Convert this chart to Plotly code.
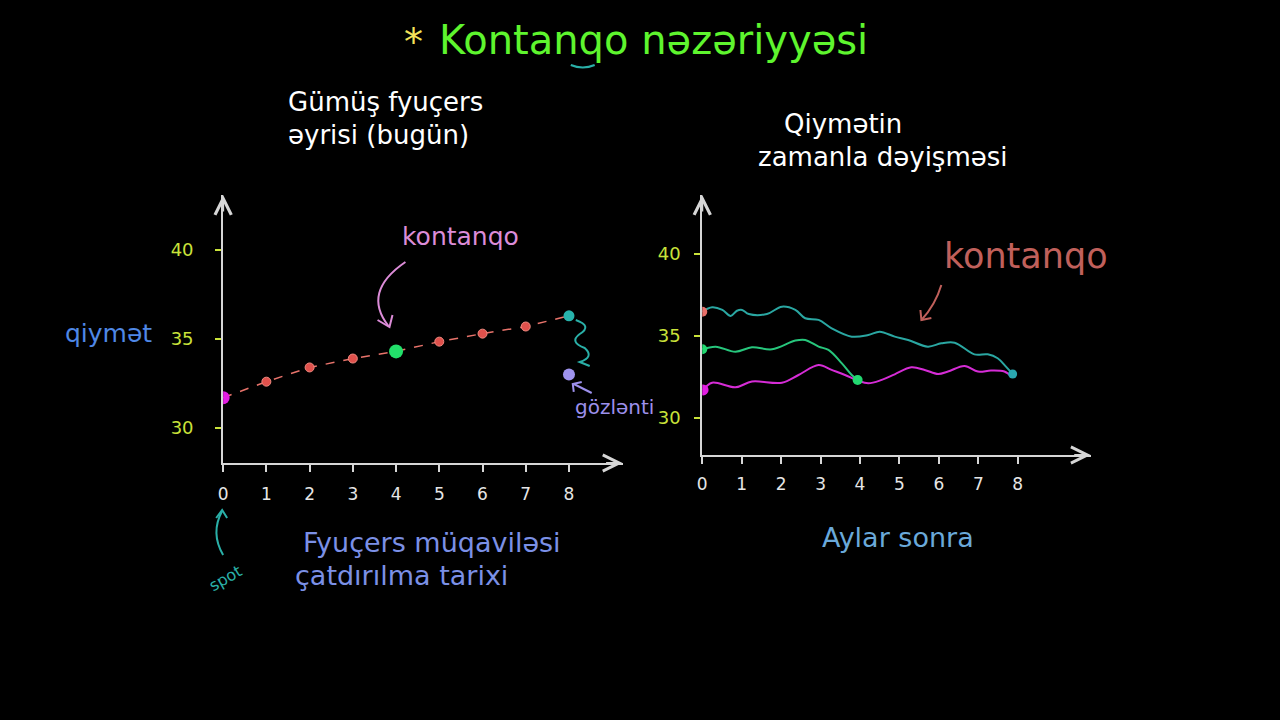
import plotly.graph_objects as go

W, H = 1280, 720

# left panel: silver futures curve (today)
months = [0, 1, 2, 3, 4, 5, 6, 7, 8]
futures_price = [31.7, 32.6, 33.4, 33.9, 34.3, 34.85, 35.3, 35.7, 36.3]
expected_month = [8]
expected_price = [33.0]

# right panel: how the prices move over time
cyan_x = [0, 0.25, 0.51, 0.72, 0.88, 1.01, 1.18, 1.64, 2.02, 2.36, 2.61, 2.95, 3.28, 3.79,
          4.21, 4.5, 4.88, 5.22, 5.72, 6.06, 6.4, 6.9, 7.24, 7.49, 7.7, 7.87]
cyan_y = [36.48, 36.75, 36.59, 36.22, 36.54, 36.59, 36.34, 36.34, 36.79, 36.59, 36.08, 35.98,
          35.47, 34.96, 35.06, 35.26, 34.96, 34.76, 34.35, 34.55, 34.59, 33.88, 33.88, 33.64,
          33.13, 32.68]
green_x = [0, 0.34, 0.84, 1.26, 1.77, 2.36, 2.61, 2.95, 3.2, 3.54, 3.79, 3.94]
green_y = [34.19, 34.35, 34.04, 34.31, 34.19, 34.72, 34.76, 34.35, 34.15, 33.33, 32.62, 32.32]
magenta_x = [0.02, 0.25, 0.84, 1.26, 2.02, 2.44, 2.95, 3.28, 3.62, 3.94, 4.21, 4.55, 4.88,
             5.3, 5.64, 5.98, 6.23, 6.65, 6.99, 7.32, 7.66, 7.85]
magenta_y = [31.71, 32.15, 31.87, 32.22, 32.15, 32.62, 33.23, 32.93, 32.62, 32.28, 32.11,
             32.32, 32.66, 33.09, 32.93, 32.68, 32.83, 33.17, 32.83, 32.89, 32.83, 32.52]

x_ticks = [0, 1, 2, 3, 4, 5, 6, 7, 8]
y_ticks = [30, 35, 40]

FONT = "DejaVu Sans"
AXIS = "#d6d6d6"
YELLOW = "#c9e23a"


def px(x):
    return x / W


def py(y):
    return 1 - y / H


def path(points):
    # points in screen pixels -> svg path in paper units
    cmd = []
    for p in points:
        if isinstance(p, str):
            cmd.append(p)
        else:
            cmd.append(f"{px(p[0]):.5f},{py(p[1]):.5f}")
    return " ".join(cmd)


fig = go.Figure()

# ---- left panel ----
fig.add_trace(go.Scatter(x=months, y=futures_price, mode="lines",
                         line=dict(color="#e8736b", width=1.5, dash="dash"),
                         xaxis="x", yaxis="y", hoverinfo="skip"))
mid = [1, 2, 3, 5, 6, 7]
fig.add_trace(go.Scatter(x=[months[i] for i in mid], y=[futures_price[i] for i in mid],
                         mode="markers",
                         marker=dict(color="#e0514c", size=9, line=dict(color="#f08a80", width=1)),
                         xaxis="x", yaxis="y"))
fig.add_trace(go.Scatter(x=[months[0]], y=[futures_price[0]], mode="markers",
                         marker=dict(color="#e21ee2", size=13), xaxis="x", yaxis="y"))
fig.add_trace(go.Scatter(x=[months[4]], y=[futures_price[4]], mode="markers",
                         marker=dict(color="#22e06a", size=14), xaxis="x", yaxis="y"))
fig.add_trace(go.Scatter(x=[months[8]], y=[futures_price[8]], mode="markers",
                         marker=dict(color="#27b3ac", size=11), xaxis="x", yaxis="y"))
fig.add_trace(go.Scatter(x=expected_month, y=expected_price, mode="markers",
                         marker=dict(color="#9f93ee", size=12), xaxis="x", yaxis="y"))

# ---- right panel ----
fig.add_trace(go.Scatter(x=cyan_x, y=cyan_y, mode="lines", line_shape="spline",
                         line=dict(color="#2aa7a2", width=2), xaxis="x2", yaxis="y2"))
fig.add_trace(go.Scatter(x=green_x, y=green_y, mode="lines", line_shape="spline",
                         line=dict(color="#27c67c", width=2), xaxis="x2", yaxis="y2"))
fig.add_trace(go.Scatter(x=magenta_x, y=magenta_y, mode="lines", line_shape="spline",
                         line=dict(color="#d62cd6", width=2), xaxis="x2", yaxis="y2"))
fig.add_trace(go.Scatter(x=[cyan_x[0]], y=[cyan_y[0]], mode="markers",
                         marker=dict(color="#e8706a", size=10), xaxis="x2", yaxis="y2"))
fig.add_trace(go.Scatter(x=[green_x[0], green_x[-1]], y=[green_y[0], green_y[-1]], mode="markers",
                         marker=dict(color="#22d870", size=10), xaxis="x2", yaxis="y2"))
fig.add_trace(go.Scatter(x=[magenta_x[0]], y=[magenta_y[0]], mode="markers",
                         marker=dict(color="#e21ee2", size=11), xaxis="x2", yaxis="y2"))
fig.add_trace(go.Scatter(x=[cyan_x[-1]], y=[cyan_y[-1]], mode="markers",
                         marker=dict(color="#2aa8b0", size=9), xaxis="x2", yaxis="y2"))

common_x = dict(showgrid=False, zeroline=False, showline=True, linecolor=AXIS, linewidth=2,
                tickmode="array", tickvals=x_ticks, ticks="outside", ticklen=7,
                tickcolor=AXIS, tickwidth=2, tickfont=dict(family=FONT, size=17, color="#e6e6e6"),
                fixedrange=True)
common_y = dict(showgrid=False, zeroline=False, showline=True, linecolor=AXIS, linewidth=2,
                tickmode="array", tickvals=y_ticks, ticks="outside", ticklen=6,
                tickcolor=YELLOW, tickwidth=2, tickfont=dict(family=FONT, size=18, color=YELLOW),
                fixedrange=True)

fig.update_layout(
    width=W, height=H,
    margin=dict(l=0, r=0, t=0, b=0),
    paper_bgcolor="black", plot_bgcolor="black",
    showlegend=False,
    font=dict(family=FONT, color="white"),
    xaxis=dict(common_x, domain=[px(219), px(620)], range=[0, 9.24], anchor="y",
               ticklabelstandoff=8),
    yaxis=dict(common_y, domain=[py(463), py(195)], range=[28.03, 43.09], anchor="x",
               ticklabelstandoff=18),
    xaxis2=dict(common_x, domain=[px(700), px(1090)], range=[0, 9.85], anchor="y2",
                ticklabelstandoff=6),
    yaxis2=dict(common_y, domain=[py(455), py(195)], range=[27.74, 43.6], anchor="x2",
                ticklabelstandoff=10),
)

ann = []


def text(t, x, y, color, size, xanchor="left", angle=0):
    ann.append(dict(text=t, x=px(x), y=py(y), xref="paper", yref="paper", showarrow=False,
                    xanchor=xanchor, yanchor="middle", textangle=angle,
                    font=dict(family=FONT, size=size, color=color)))


text("*", 410, 42, "#f2e35a", 38, "center")
text("Kontanqo nəzəriyyəsi", 434, 40, "#5ef52e", 40)
text("Gümüş fyuçers", 282, 102, "white", 26)
text("əyrisi (bugün)", 282, 135, "white", 26)
text("Qiymətin", 780, 124, "white", 26)
text("zamanla dəyişməsi", 754, 157, "white", 26)
text("qiymət", 58, 333, "#4f88e6", 25)
text("kontanqo", 397, 237, "#dc8cd8", 25)
text("gözlənti", 570, 407, "#9d90ec", 20)
text("Fyuçers müqaviləsi", 297, 542, "#7b90e6", 27)
text("çatdırılma tarixi", 289, 575, "#7b90e6", 27)
text("Aylar sonra", 818, 537, "#6aa9da", 27)
text("spot", 221, 578, "#2ab0a8", 16, "center", -30)
text("kontanqo", 941, 256, "#c0605b", 35)

# axis arrow heads
for xr, yr, xv, yv, axo, ayo in [("x", "y", 0, 43.09, 0, 18), ("x", "y", 9.24, 28.03, -18, 0),
                                 ("x2", "y2", 0, 43.6, 0, 18), ("x2", "y2", 9.85, 27.74, -18, 0)]:
    ann.append(dict(x=xv, y=yv, xref=xr, yref=yr, ax=axo, ay=ayo, text="", showarrow=True,
                    arrowhead=5, arrowsize=1.6, arrowwidth=2, arrowcolor=AXIS))

fig.update_layout(annotations=ann)

shapes = []


def draw(points, color, width=2):
    shapes.append(dict(type="path", path=path(points), xref="paper", yref="paper",
                       line=dict(color=color, width=width)))


# hand-drawn arrows and squiggles
draw(["M", (402, 262), "Q", (358, 292), (385, 326)], "#dc8cd8")
draw(["M", (374, 320), "L", (386, 327), "L", (389, 315)], "#dc8cd8")
draw(["M", (219, 555), "Q", (206, 533), (218, 511)], "#2ab0a8")
draw(["M", (212, 518), "L", (218, 510), "L", (223, 518)], "#2ab0a8")
draw(["M", (589, 393), "L", (571, 384)], "#9d90ec")
draw(["M", (571, 392), "L", (570, 384), "L", (579, 382)], "#9d90ec")
draw(["M", (940, 285), "Q", (934, 305), (920, 320)], "#c0605b")
draw(["M", (919, 310), "L", (920, 320), "L", (930, 318)], "#c0605b")
draw(["M", (573, 320), "Q", (590, 326), (577, 334), "Q", (566, 342), (582, 348),
      "Q", (592, 357), (577, 362), "L", (587, 366)], "#2ab0a8")
draw(["M", (568, 65), "Q", (580, 70), (592, 65)], "#2ab0a8")

fig.update_layout(shapes=shapes)

# drop the page margin so the figure sits flush in the window
fig.write_html("out.html", config={"displayModeBar": False},
               post_script="document.body.style.margin='0';"
                           "document.body.style.background='black';")
